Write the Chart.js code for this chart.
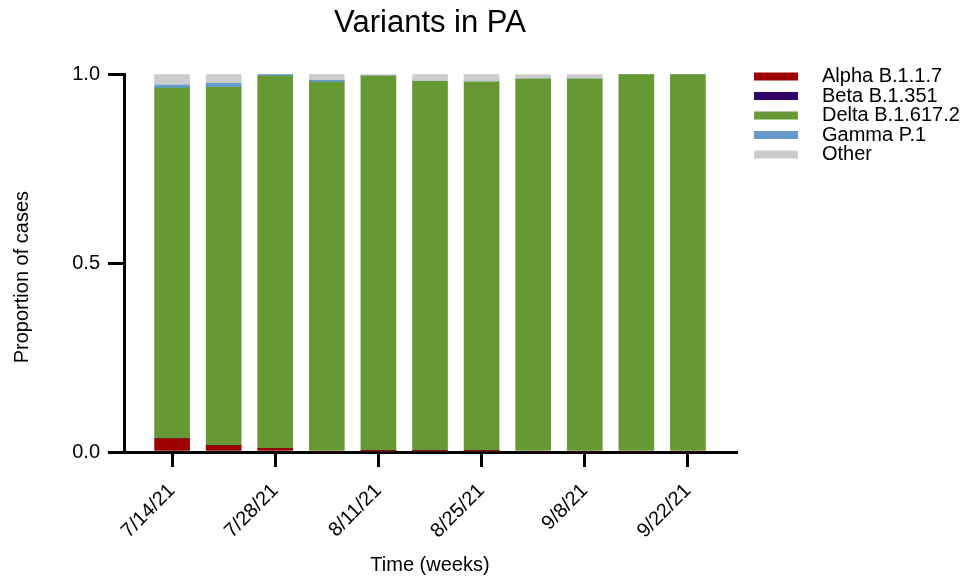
<!DOCTYPE html>
<html>

<head>
	<meta charset="utf-8">
	<title>Variants in PA</title>
	<style>
		html, body {
			margin: 0;
			padding: 0;
			background: #fff;
		}
		canvas {
			display: block;
		}
	</style>
</head>

<body>
	<canvas id="chart" width="971" height="581"></canvas>

	<script src="https://cdn.jsdelivr.net/npm/chart.js@4/dist/chart.umd.min.js"></script>
	<script>
		'use strict'

		// weekly samples, every other one is labelled on the axis
		const weeks = ['7/14/21', '7/21/21', '7/28/21', '8/4/21', '8/11/21', '8/18/21',
			'8/25/21', '9/1/21', '9/8/21', '9/15/21', '9/22/21']
		const labelledWeeks = [0, 2, 4, 6, 8, 10]

		const alpha = [0.035, 0.017, 0.009, 0, 0.003, 0.003, 0.003, 0, 0, 0, 0]
		const beta = [0, 0, 0, 0, 0, 0, 0, 0, 0, 0, 0]
		const delta = [0.928, 0.948, 0.986, 0.979, 0.992, 0.978, 0.976, 0.987, 0.987, 1, 1]
		const gamma = [0.008, 0.011, 0.005, 0.005, 0, 0, 0, 0, 0, 0, 0]
		const other = [0.029, 0.024, 0, 0.016, 0.005, 0.019, 0.021, 0.013, 0.013, 0, 0]

		const yTicks = [0, 0.5, 1]

		const font = '"Liberation Sans", Arial, Helvetica, sans-serif'
		Chart.defaults.font.family = font
		Chart.defaults.color = '#000'

		function series(values) {
			return values.map((v, i) => ({ x: i, y: v }))
		}

		// legend + y title drawn by hand, the built-in ones sit a bit off
		const extras = {
			id: 'extras',
			afterDraw(chart) {
				const ctx = chart.ctx
				const area = chart.chartArea
				const x0 = area.right + 18
				ctx.save()
				ctx.font = '20px ' + font
				ctx.textBaseline = 'middle'
				chart.data.datasets.forEach((ds, i) => {
					const y = 76.5 + i * 19.5
					ctx.fillStyle = ds.backgroundColor
					ctx.fillRect(x0, y - 4, 44, 8)
					ctx.fillStyle = '#000'
					ctx.fillText(ds.label, x0 + 68, y)
				})

				// y axis title, a little below the middle like the original
				ctx.translate(22, (area.top + area.bottom) / 2 + 14)
				ctx.rotate(-Math.PI / 2)
				ctx.textAlign = 'center'
				ctx.fillText('Proportion of cases', 0, 0)
				ctx.restore()
			}
		}

		const axisGrid = {
			display: true,
			drawOnChartArea: false,
			drawTicks: true,
			offset: false,
			color: '#000',
			lineWidth: 3
		}

		const config = {
			type: 'bar',
			data: {
				datasets: [
					{ label: 'Alpha B.1.1.7', data: series(alpha), backgroundColor: '#9e0000' },
					{ label: 'Beta B.1.351', data: series(beta), backgroundColor: '#330066' },
					{ label: 'Delta B.1.617.2', data: series(delta), backgroundColor: '#669933' },
					{ label: 'Gamma P.1', data: series(gamma), backgroundColor: '#6699cc' },
					{ label: 'Other', data: series(other), backgroundColor: '#cccccc' }
				]
			},
			options: {
				responsive: false,
				animation: false,
				barThickness: 35,
				borderWidth: 0,
				layout: {
					padding: { left: 0, right: 235, top: 0, bottom: 0 }
				},
				plugins: {
					legend: { display: false },
					tooltip: { enabled: false },
					title: {
						display: true,
						text: 'Variants in PA',
						fullSize: false,
						color: '#000',
						font: { size: 31, weight: 'normal' },
						padding: { top: 5, bottom: 32 }
					}
				},
				scales: {
					x: {
						type: 'linear',
						stacked: true,
						offset: false,
						min: -0.932,
						max: 10.932,
						afterBuildTicks: scale => {
							scale.ticks = labelledWeeks.map(v => ({ value: v }))
						},
						afterFit: scale => {
							scale.height = 129
						},
						ticks: {
							autoSkip: false,
							minRotation: 45,
							maxRotation: 45,
							padding: 12,
							font: { size: 20 },
							callback: v => weeks[v]
						},
						grid: Object.assign({}, axisGrid, { tickLength: 15 }),
						border: { display: true, color: '#000', width: 3 },
						title: {
							display: true,
							text: 'Time (weeks)',
							font: { size: 20 },
							padding: { top: 0, bottom: 4 }
						}
					},
					y: {
						stacked: true,
						min: 0,
						max: 1,
						afterBuildTicks: scale => {
							scale.ticks = yTicks.map(v => ({ value: v }))
						},
						afterFit: scale => {
							scale.width = 124
						},
						ticks: {
							padding: 8,
							font: { size: 20 },
							callback: v => v.toFixed(1)
						},
						grid: Object.assign({}, axisGrid, { tickLength: 16 }),
						border: { display: true, color: '#000', width: 3 }
					}
				}
			},
			plugins: [extras]
		}

		new Chart(document.getElementById('chart'), config)
	</script>
</body>

</html>
